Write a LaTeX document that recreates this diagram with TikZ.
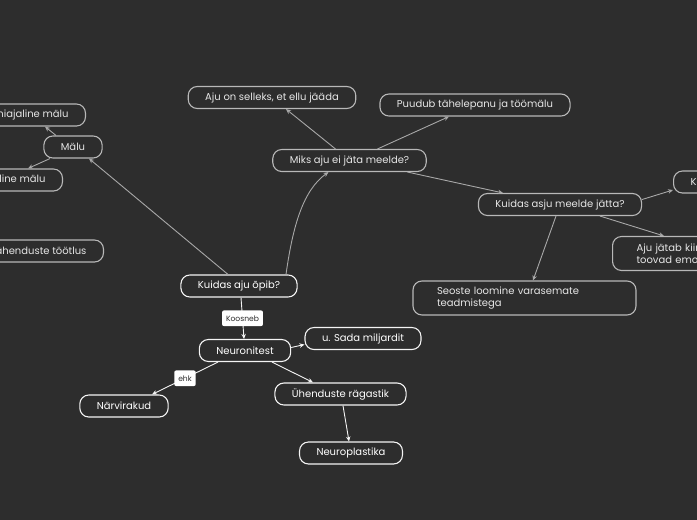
\documentclass[tikz,border=0pt]{standalone}
\usepackage{fontspec}
\setmainfont{Poppins}
\usepackage{tikz}
\usetikzlibrary{arrows.meta, positioning}
\definecolor{bg}{HTML}{2D2D2D}
\definecolor{grayline}{HTML}{A8A8A8}
\definecolor{graynode}{HTML}{B8B8B8}
\definecolor{whitenode}{HTML}{F4F4F4}
\definecolor{textgray}{HTML}{E6E6E6}

\begin{document}
\begin{tikzpicture}[x=1pt, y=-1pt,
    idea/.style={draw=graynode, line width=1.1pt, rounded corners=9pt, text=textgray,
        minimum height=22pt, inner xsep=17pt, inner ysep=3pt, font=\fontsize{10}{12}\selectfont},
    key/.style={idea, draw=whitenode, text=white},
    long/.style={idea, text width=175pt, align=left, inner xsep=24pt, minimum height=34pt},
    tag/.style={fill=white, text=bg, rounded corners=2pt, inner xsep=4pt, inner ysep=5pt,
        font=\fontsize{7.6}{8}\selectfont},
    gline/.style={draw=grayline, line width=0.9pt, -{Stealth[length=5pt,width=4.5pt]}},
    wline/.style={gline, draw=whitenode}]
    % Canvas
    \useasboundingbox (0,0) rectangle (697,520);
    \fill[bg] (0,0) rectangle (697,520);
    \clip (0,0) rectangle (697,520);

    % Memory branch
    \node[idea, anchor=east] (luhi) at (86,115) {Lühiajaline mälu};
    \node[idea] (malu) at (73,147) {Mälu};
    \node[idea, anchor=east] (pika) at (63,180) {Pikaajaline mälu};
    \node[idea, anchor=east] (tahendus) at (104,251) {Tähenduste töötlus};

    % Central question
    \node[key] (opib) at (239,286) {Kuidas aju õpib?};

    % Why and how
    \node[idea] (ellu) at (272,97.5) {Aju on selleks, et ellu jääda};
    \node[idea] (puudub) at (475,105) {Puudub tähelepanu ja töömälu};
    \node[idea] (miks) at (349.5,160.5) {Miks aju ei jäta meelde?};
    \node[idea] (kuidas) at (560,204.5) {Kuidas asju meelde jätta?};
    \node[idea, anchor=west] (korda) at (673,182) {Kordamine};
    \node[long, text width=260pt, anchor=west] (emot) at (612,253.5) {Aju jätab kiiremini meelde asjad, mis\\toovad emotsioone};
    \node[long] (seosed) at (524.5,298) {Seoste loomine varasemate\\teadmistega};

    % Neurons
    \node[key] (neuron) at (245,350.5) {Neuronitest};
    \node[key] (sada) at (363,338.5) {u. Sada miljardit};
    \node[key] (narvi) at (124,406) {Närvirakud};
    \node[key] (rags) at (340.5,394) {Ühenduste rägastik};
    \node[key] (plast) at (351,453) {Neuroplastika};

    % Gray links
    \draw[gline] ([xshift=-11pt]opib.north) -- ([xshift=16pt]malu.south);
    \draw[gline] ([xshift=-17pt]malu.north) -- ([xshift=-41pt]luhi.south east);
    \draw[gline] ([xshift=-23pt]malu.south) -- ([xshift=-35pt]pika.north east);
    \draw[gline] ([xshift=47pt]opib.north) .. controls +(7,-50) and +(-25,18) .. ([xshift=-21pt]miks.south);
    \draw[gline] ([xshift=-14pt]miks.north) -- ([xshift=14pt]ellu.south);
    \draw[gline] ([xshift=28pt]miks.north) -- ([xshift=-26pt]puudub.south);
    \draw[gline] ([xshift=58pt]miks.south) -- ([xshift=-57pt]kuidas.north);
    \draw[gline] ([yshift=5pt]kuidas.east) -- ([yshift=-8pt]korda.west);
    \draw[gline] ([xshift=40pt]kuidas.south) -- ([xshift=52pt]emot.north west);
    \draw[gline] ([xshift=-4pt]kuidas.south) -- ([xshift=8.5pt]seosed.north);

    % White links
    \draw[wline] ([xshift=2pt]opib.south) -- node[tag] {Koosneb} ([xshift=-1pt]neuron.north);
    \draw[wline] ([yshift=3pt]neuron.east) -- ([yshift=-6pt]sada.west);
    \draw[wline] ([xshift=-27pt]neuron.south) -- node[tag] {ehk} ([xshift=28pt]narvi.north);
    \draw[wline] ([xshift=27pt]neuron.south) -- ([xshift=-27.5pt]rags.north);
    \draw[wline] ([xshift=2.5pt]rags.south) -- ([xshift=-2pt]plast.north);
\end{tikzpicture}
\end{document}
